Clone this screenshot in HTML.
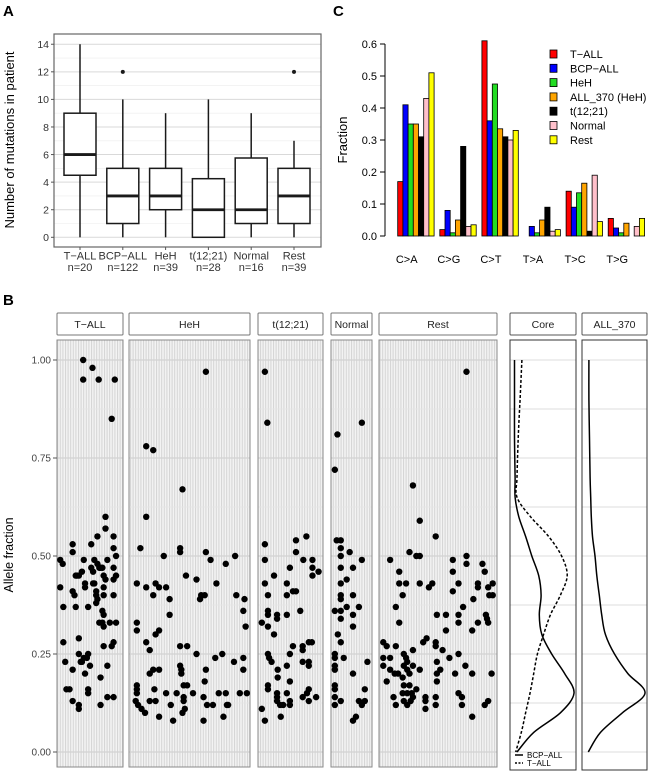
<!DOCTYPE html>
<html><head><meta charset="utf-8"><style>
html,body{margin:0;padding:0;background:#fff;}
svg{display:block;font-family:"Liberation Sans",Arial,sans-serif;}
</style></head><body>
<svg id="fig" width="650" height="772" viewBox="0 0 650 772" xmlns="http://www.w3.org/2000/svg">
<defs>
<pattern id="stripes" width="2.6" height="10" patternUnits="userSpaceOnUse">
<rect width="2.6" height="10" fill="#f3f3f3"/><rect width="1" height="10" fill="#d4d4d4"/>
</pattern>
</defs>
<text x="3" y="16" font-size="15" font-weight="bold">A</text>
<text x="333" y="16" font-size="15" font-weight="bold">C</text>
<text x="3" y="305" font-size="15" font-weight="bold">B</text>
<g id="pa"></g>
<g id="pc"></g>
<g id="pb"></g>
</svg>
<script>
// ---------- Panel A data ----------
const boxCats = ["T-ALL","BCP-ALL","HeH","t(12;21)","Normal","Rest"];
const boxN = ["n=20","n=122","n=39","n=28","n=16","n=39"];
const boxLow = [0,0,0,0,0,0];
const boxQ1 = [4.5,1,2,0,1,1];
const boxMed = [6,3,3,2,2,3];
const boxQ3 = [9,5,5,4.25,5.75,5];
const boxHigh = [14,10,9,10,9,7];
const boxOutliers = [[],[12],[],[],[],[12]];
const aTicks = [0,2,4,6,8,10,12,14];

// ---------- Panel C data ----------
const mutTypes = ["C>A","C>G","C>T","T>A","T>C","T>G"];
const groups = ["T-ALL","BCP-ALL","HeH","ALL_370 (HeH)","t(12;21)","Normal","Rest"];
const groupColors = ["#ff0000","#0000ff","#22dd22","#ffa500","#000000","#ffc0cb","#ffff00"];
const fracTALL = [0.17,0.02,0.61,0.0,0.14,0.055];
const fracBCP = [0.41,0.08,0.36,0.03,0.09,0.025];
const fracHeH = [0.35,0.01,0.475,0.01,0.135,0.01];
const fracALL370 = [0.35,0.05,0.335,0.05,0.165,0.04];
const fracT1221 = [0.31,0.28,0.31,0.09,0.015,0.0];
const fracNormal = [0.43,0.03,0.30,0.015,0.19,0.03];
const fracRest = [0.51,0.035,0.33,0.02,0.045,0.055];
const cTicks = ["0.0","0.1","0.2","0.3","0.4","0.5","0.6"];

// ---------- Panel B data ----------
const facetNames = ["T-ALL","HeH","t(12;21)","Normal","Rest"];
const bTicks = ["0.00","0.25","0.50","0.75","1.00"];
// [position within facet (0..1), allele fraction]
const ptsTALL = [[.39,1.0],[.39,.95],[.54,.98],[.64,.95],[.85,.85],[.9,.95],
[.02,.42],[.02,.49],[.06,.48],[.07,.37],[.07,.28],[.1,.23],[.12,.16],[.17,.16],[.22,.53],[.22,.51],[.22,.41],[.25,.40],[.27,.45],[.27,.37],[.22,.21],[.22,.13],[.29,.45],[.32,.45],[.32,.29],[.32,.25],[.32,.12],[.32,.11],[.35,.23],[.37,.46],[.37,.23],[.4,.49],[.42,.43],[.42,.42],[.4,.24],[.42,.20],[.45,.24],[.47,.25],[.47,.15],[.47,.16],[.47,.37],[.5,.22],[.52,.53],[.52,.47],[.55,.46],[.55,.43],[.57,.43],[.57,.49],[.6,.41],[.6,.40],[.6,.38],[.62,.39],[.62,.48],[.62,.55],[.65,.47],[.65,.33],[.67,.47],[.67,.19],[.67,.12],[.7,.47],[.7,.36],[.7,.33],[.72,.45],[.72,.42],[.72,.40],[.72,.35],[.72,.32],[.72,.27],[.75,.60],[.75,.57],[.75,.44],[.78,.49],[.78,.22],[.78,.14],[.82,.33],[.85,.27],[.88,.55],[.88,.52],[.88,.47],[.88,.44],[.88,.40],[.88,.28],[.88,.14],[.92,.50],[.92,.45],[.92,.33]];
const ptsHeH = [[.13,.78],[.19,.77],[.44,.67],[.64,.97],
[.13,.60],[.08,.52],[.05,.43],[.13,.42],[.21,.43],[.24,.42],[.19,.40],[.30,.42],[.33,.39],[.33,.35],[.28,.50],[.42,.52],[.42,.51],[.47,.45],[.05,.33],[.05,.31],[.13,.28],[.16,.26],[.21,.30],[.24,.31],[.16,.20],[.19,.21],[.24,.21],[.05,.17],[.05,.16],[.05,.15],[.04,.13],[.06,.12],[.09,.11],[.12,.10],[.16,.13],[.20,.16],[.21,.13],[.24,.09],[.30,.15],[.34,.12],[.36,.08],[.39,.15],[.42,.27],[.42,.22],[.43,.21],[.43,.20],[.45,.17],[.45,.14],[.45,.13],[.46,.11],[.48,.17],[.48,.27],[.44,.10],[.53,.15],[.56,.25],[.56,.44],[.59,.39],[.60,.40],[.63,.40],[.64,.51],[.68,.49],[.64,.21],[.63,.18],[.62,.14],[.62,.08],[.65,.12],[.70,.12],[.72,.24],[.73,.43],[.75,.15],[.78,.25],[.79,.09],[.81,.15],[.82,.12],[.83,.12],[.81,.48],[.88,.23],[.89,.50],[.90,.40],[.96,.36],[.97,.39],[.98,.32],[.96,.24],[.96,.21],[.93,.15],[.99,.15]];
const ptsT1221 = [[.08,.97],[.12,.84],
[.08,.53],[.08,.49],[.23,.45],[.08,.43],[.13,.40],[.13,.36],[.13,.35],[.03,.33],[.13,.32],[.28,.35],[.28,.34],[.44,.35],[.23,.30],[.13,.25],[.15,.24],[.19,.23],[.29,.21],[.29,.19],[.13,.17],[.13,.16],[.28,.15],[.28,.14],[.28,.13],[.33,.12],[.38,.12],[.44,.15],[.49,.13],[.49,.12],[.49,.18],[.44,.22],[.49,.25],[.54,.27],[.70,.27],[.70,.26],[.70,.23],[.80,.28],[.85,.28],[.80,.23],[.80,.22],[.70,.14],[.80,.16],[.77,.15],[.80,.13],[.92,.14],[.03,.11],[.08,.08],[.34,.09],[.44,.43],[.44,.40],[.54,.41],[.59,.41],[.49,.47],[.59,.51],[.59,.54],[.76,.55],[.71,.49],[.86,.49],[.86,.47],[.86,.45],[.96,.46],[.66,.36]];
const ptsNormal = [[.78,.84],[.12,.81],[.05,.72],
[.10,.54],[.21,.54],[.21,.52],[.21,.50],[.45,.51],[.78,.49],[.21,.47],[.54,.47],[.37,.44],[.21,.43],[.21,.40],[.21,.39],[.54,.40],[.05,.36],[.21,.36],[.37,.37],[.70,.37],[.54,.35],[.21,.34],[.54,.32],[.13,.30],[.21,.28],[.05,.25],[.05,.24],[.29,.24],[.05,.22],[.05,.21],[.05,.17],[.05,.16],[.05,.14],[.05,.12],[.21,.13],[.54,.20],[.70,.13],[.78,.12],[.86,.13],[.86,.16],[.93,.23],[.62,.09],[.54,.08]];
const ptsRest = [[.75,.97],[.28,.68],
[.34,.59],[.48,.55],[.25,.51],[.31,.50],[.34,.50],[.08,.49],[.16,.46],[.16,.43],[.22,.43],[.19,.40],[.34,.43],[.42,.42],[.45,.43],[.13,.37],[.16,.33],[.49,.35],[.57,.35],[.57,.31],[.63,.49],[.63,.46],[.68,.43],[.63,.41],[.75,.50],[.75,.48],[.89,.48],[.91,.46],[.85,.43],[.85,.42],[.81,.39],[.72,.37],[.68,.35],[.68,.33],[.85,.33],[.92,.35],[.93,.34],[.94,.33],[.94,.42],[.95,.40],[.98,.40],[.98,.43],[.80,.31],[.02,.28],[.05,.27],[.13,.27],[.02,.24],[.08,.24],[.02,.22],[.08,.21],[.12,.20],[.15,.20],[.05,.18],[.20,.25],[.22,.24],[.23,.23],[.20,.22],[.23,.21],[.19,.19],[.25,.20],[.28,.22],[.28,.26],[.34,.21],[.25,.17],[.20,.17],[.19,.15],[.23,.15],[.27,.15],[.28,.14],[.23,.12],[.26,.13],[.20,.13],[.11,.14],[.13,.12],[.39,.14],[.39,.13],[.39,.11],[.48,.14],[.48,.12],[.31,.16],[.37,.28],[.40,.29],[.48,.28],[.48,.27],[.49,.23],[.52,.21],[.49,.20],[.49,.18],[.54,.26],[.60,.24],[.65,.20],[.68,.25],[.68,.15],[.71,.14],[.71,.12],[.74,.22],[.80,.20],[.80,.09],[.91,.12],[.94,.13],[.97,.20]];
// density curves: allele fraction grid and relative density
const densAF = [1.0,0.9,0.8,0.7,0.65,0.6,0.55,0.5,0.45,0.4,0.35,0.3,0.25,0.2,0.15,0.1,0.05,0.0];
const densCoreBCP = [0.04,0.04,0.04,0.05,0.05,0.11,0.22,0.32,0.43,0.47,0.44,0.48,0.64,0.85,1.0,0.78,0.35,0.08];
const densCoreTALL = [0.16,0.13,0.10,0.08,0.08,0.30,0.59,0.80,0.89,0.78,0.62,0.51,0.41,0.35,0.29,0.22,0.15,0.06];
const densALL370 = [0.08,0.08,0.09,0.10,0.11,0.12,0.14,0.18,0.21,0.25,0.29,0.35,0.50,0.72,1.0,0.63,0.27,0.07];

const NS="http://www.w3.org/2000/svg";
function mk(parent,tag,attrs,text){const e=document.createElementNS(NS,tag);for(const k in attrs)e.setAttribute(k,attrs[k]);if(text!==undefined)e.textContent=text;parent.appendChild(e);return e;}
function smoothPath(P){
  let d='M'+P[0][0].toFixed(1)+','+P[0][1].toFixed(1);
  for(let i=0;i<P.length-1;i++){
    const p0=P[i-1]||P[i],p1=P[i],p2=P[i+1],p3=P[i+2]||p2;
    const c1=[p1[0]+(p2[0]-p0[0])/6,p1[1]+(p2[1]-p0[1])/6];
    const c2=[p2[0]-(p3[0]-p1[0])/6,p2[1]-(p3[1]-p1[1])/6];
    d+=' C'+c1[0].toFixed(1)+','+c1[1].toFixed(1)+' '+c2[0].toFixed(1)+','+c2[1].toFixed(1)+' '+p2[0].toFixed(1)+','+p2[1].toFixed(1);
  }
  return d;
}

// ===== Panel A =====
(function(){
  const g=document.getElementById('pa');
  const L=54,R=321,T=34,B=247;
  const y=v=>237.3-v*13.79;
  const x=i=>80+i*42.8;
  for(let v=0;v<=14;v++){const gl=mk(g,'line',{x1:L,x2:R,y1:y(v),y2:y(v),stroke:v%2?'#ececec':'#d9d9d9','stroke-width':v%2?0.6:1});
    }
  const fr=mk(g,'rect',{x:L,y:T,width:R-L,height:B-T,fill:'none',stroke:'#666','stroke-width':1.2});
  
  aTicks.forEach(v=>{
    mk(g,'line',{x1:L-3,x2:L,y1:y(v),y2:y(v),stroke:'#555'});
    const t=mk(g,'text',{x:L-5,y:y(v)+3.8,'font-size':10.5,'text-anchor':'end',fill:'#333'},v);
    
  });
  boxCats.forEach((c,i)=>{
    const cx=x(i),w=32;
    const bg=mk(g,'g',{});
    
    mk(bg,'line',{x1:cx,x2:cx,y1:y(boxHigh[i]),y2:y(boxQ3[i]),stroke:'#1a1a1a','stroke-width':1.5});
    mk(bg,'line',{x1:cx,x2:cx,y1:y(boxQ1[i]),y2:y(boxLow[i]),stroke:'#1a1a1a','stroke-width':1.5});
    mk(bg,'rect',{x:cx-w/2,y:y(boxQ3[i]),width:w,height:y(boxQ1[i])-y(boxQ3[i]),fill:'#fff',stroke:'#1a1a1a','stroke-width':1.5});
    mk(bg,'line',{x1:cx-w/2,x2:cx+w/2,y1:y(boxMed[i]),y2:y(boxMed[i]),stroke:'#1a1a1a','stroke-width':2.8});
    boxOutliers[i].forEach(o=>mk(bg,'circle',{cx:cx,cy:y(o),r:2,fill:'#1a1a1a'}));
    mk(g,'line',{x1:cx,x2:cx,y1:B,y2:B+3,stroke:'#555'});
    const t1=mk(g,'text',{x:cx,y:259.5,'font-size':11,'text-anchor':'middle',fill:'#333'},c.replace('-','\u2212'));
    
    const t2=mk(g,'text',{x:cx,y:271,'font-size':11,'text-anchor':'middle',fill:'#333'},boxN[i]);
    
  });
  const yt=mk(g,'text',{x:0,y:0,'font-size':13,'text-anchor':'middle',transform:'translate(14,140) rotate(-90)'},'Number of mutations in patient');
  
})();

// ===== Panel C =====
(function(){
  const g=document.getElementById('pc');
  const series=[fracTALL,fracBCP,fracHeH,fracALL370,fracT1221,fracNormal,fracRest];
  const y=v=>236-v*320;
  const gx=i=>397.7+i*42.1;
  const bw=5.2;
  mk(g,'line',{x1:385,x2:385,y1:y(0),y2:y(0.6),stroke:'#000','stroke-width':1});
  cTicks.forEach(s=>{const v=parseFloat(s);
    mk(g,'line',{x1:380,x2:385,y1:y(v),y2:y(v),stroke:'#000'});
    const t=mk(g,'text',{x:377,y:y(v)+4,'font-size':11,'text-anchor':'end'},s);
    });
  mutTypes.forEach((m,i)=>{
    series.forEach((s,j)=>{
      const r=mk(g,'rect',{x:gx(i)+j*bw,y:y(s[i]),width:bw,height:Math.max(0,y(0)-y(s[i])),fill:groupColors[j],stroke:'#000','stroke-width':0.8});
      
    });
    const t=mk(g,'text',{x:gx(i)+9,y:263,'font-size':11,'text-anchor':'middle'},m);
    
  });
  const yt=mk(g,'text',{x:0,y:0,'font-size':13,'text-anchor':'middle',transform:'translate(347,140) rotate(-90)'},'Fraction');
  
  const lg=mk(g,'g',{});
  
  groups.forEach((n,j)=>{
    const cy=54+j*14.3;
    const e=mk(lg,'g',{});
    
    mk(e,'rect',{x:550,y:cy-4,width:7,height:8,fill:groupColors[j],stroke:'#000','stroke-width':0.8});
    mk(e,'text',{x:570,y:cy+4,'font-size':11},n.replace('-','\u2212'));
  });
})();

// ===== Panel B =====
(function(){
  const g=document.getElementById('pb');
  const T=340,B=767;
  const y=v=>752-v*392;
  const facets=[[57,123],[129,250],[258,323],[331,372],[379,497]];
  const pts=[ptsTALL,ptsHeH,ptsT1221,ptsNormal,ptsRest];
  const stripT=313,stripB=335;
  facetNames.forEach((n,i)=>{
    const [l,r]=facets[i];
    const s=mk(g,'rect',{x:l,y:stripT,width:r-l,height:stripB-stripT,fill:'#fff',stroke:'#777','stroke-width':1,rx:1});
    
    mk(g,'text',{x:(l+r)/2,y:328,'font-size':10.5,'text-anchor':'middle',fill:'#222'},n.replace('-','\u2212'));
    const bg=mk(g,'rect',{x:l,y:T,width:r-l,height:B-T,fill:'url(#stripes)'});
    
    for(let k=0;k<=8;k++){mk(g,'line',{x1:l,x2:r,y1:y(k/8),y2:y(k/8),stroke:k%2?'#e4e4e4':'#d2d2d2','stroke-width':k%2?0.8:1.2});}
    mk(g,'rect',{x:l,y:T,width:r-l,height:B-T,fill:'none',stroke:'#8a8a8a','stroke-width':1});
    pts[i].forEach(p=>{
      const c=mk(g,'circle',{cx:l+2+p[0]*(r-l-4),cy:y(p[1]),r:3.2,fill:'#000'});
      
    });
  });
  bTicks.forEach(s=>{const v=parseFloat(s);
    mk(g,'line',{x1:53,x2:57,y1:y(v),y2:y(v),stroke:'#555'});
    const t=mk(g,'text',{x:51,y:y(v)+3.5,'font-size':10,'text-anchor':'end',fill:'#444'},s);
    });
  const yt=mk(g,'text',{x:0,y:0,'font-size':12.5,'text-anchor':'middle',transform:'translate(13,555) rotate(-90)'},'Allele fraction');
  

  const dens=[["Core",510,576,[[densCoreBCP,''],[densCoreTALL,'3,2']]],["ALL_370",582,647,[[densALL370,'']]]];
  dens.forEach(([n,l,r,curves])=>{
    const s=mk(g,'rect',{x:l,y:stripT,width:r-l,height:stripB-stripT,fill:'#fff',stroke:'#555','stroke-width':1,rx:1});
    
    mk(g,'text',{x:(l+r)/2,y:328,'font-size':10.5,'text-anchor':'middle',fill:'#222'},n);
    const bx=mk(g,'rect',{x:l,y:T,width:r-l,height:770-T,fill:'#fff'});
    
    for(let k=0;k<=8;k++){mk(g,'line',{x1:l,x2:r,y1:y(k/8),y2:y(k/8),stroke:'#dcdcdc','stroke-width':1});}
    curves.forEach(([d,dash])=>{
      const w=r-l-4;
      const P=densAF.map((a,k)=>[l+2+d[k]*w,y(a)]);
      const p=mk(g,'path',{d:smoothPath(P),fill:'none',stroke:'#000','stroke-width':1.5,'stroke-dasharray':dash||'none','stroke-linejoin':'round'});
      
    });
    mk(g,'rect',{x:l,y:T,width:r-l,height:770-T,fill:'none',stroke:'#333','stroke-width':1});
  });
  const lg=mk(g,'g',{});
  
  mk(lg,'line',{x1:515,x2:523,y1:755,y2:755,stroke:'#000','stroke-width':1.5});
  mk(lg,'text',{x:527,y:758,'font-size':8},'BCP\u2212ALL');
  mk(lg,'line',{x1:515,x2:523,y1:763,y2:763,stroke:'#000','stroke-width':1.5,'stroke-dasharray':'2,1.5'});
  mk(lg,'text',{x:527,y:766,'font-size':8},'T\u2212ALL');
})();
</script>
</body></html>
